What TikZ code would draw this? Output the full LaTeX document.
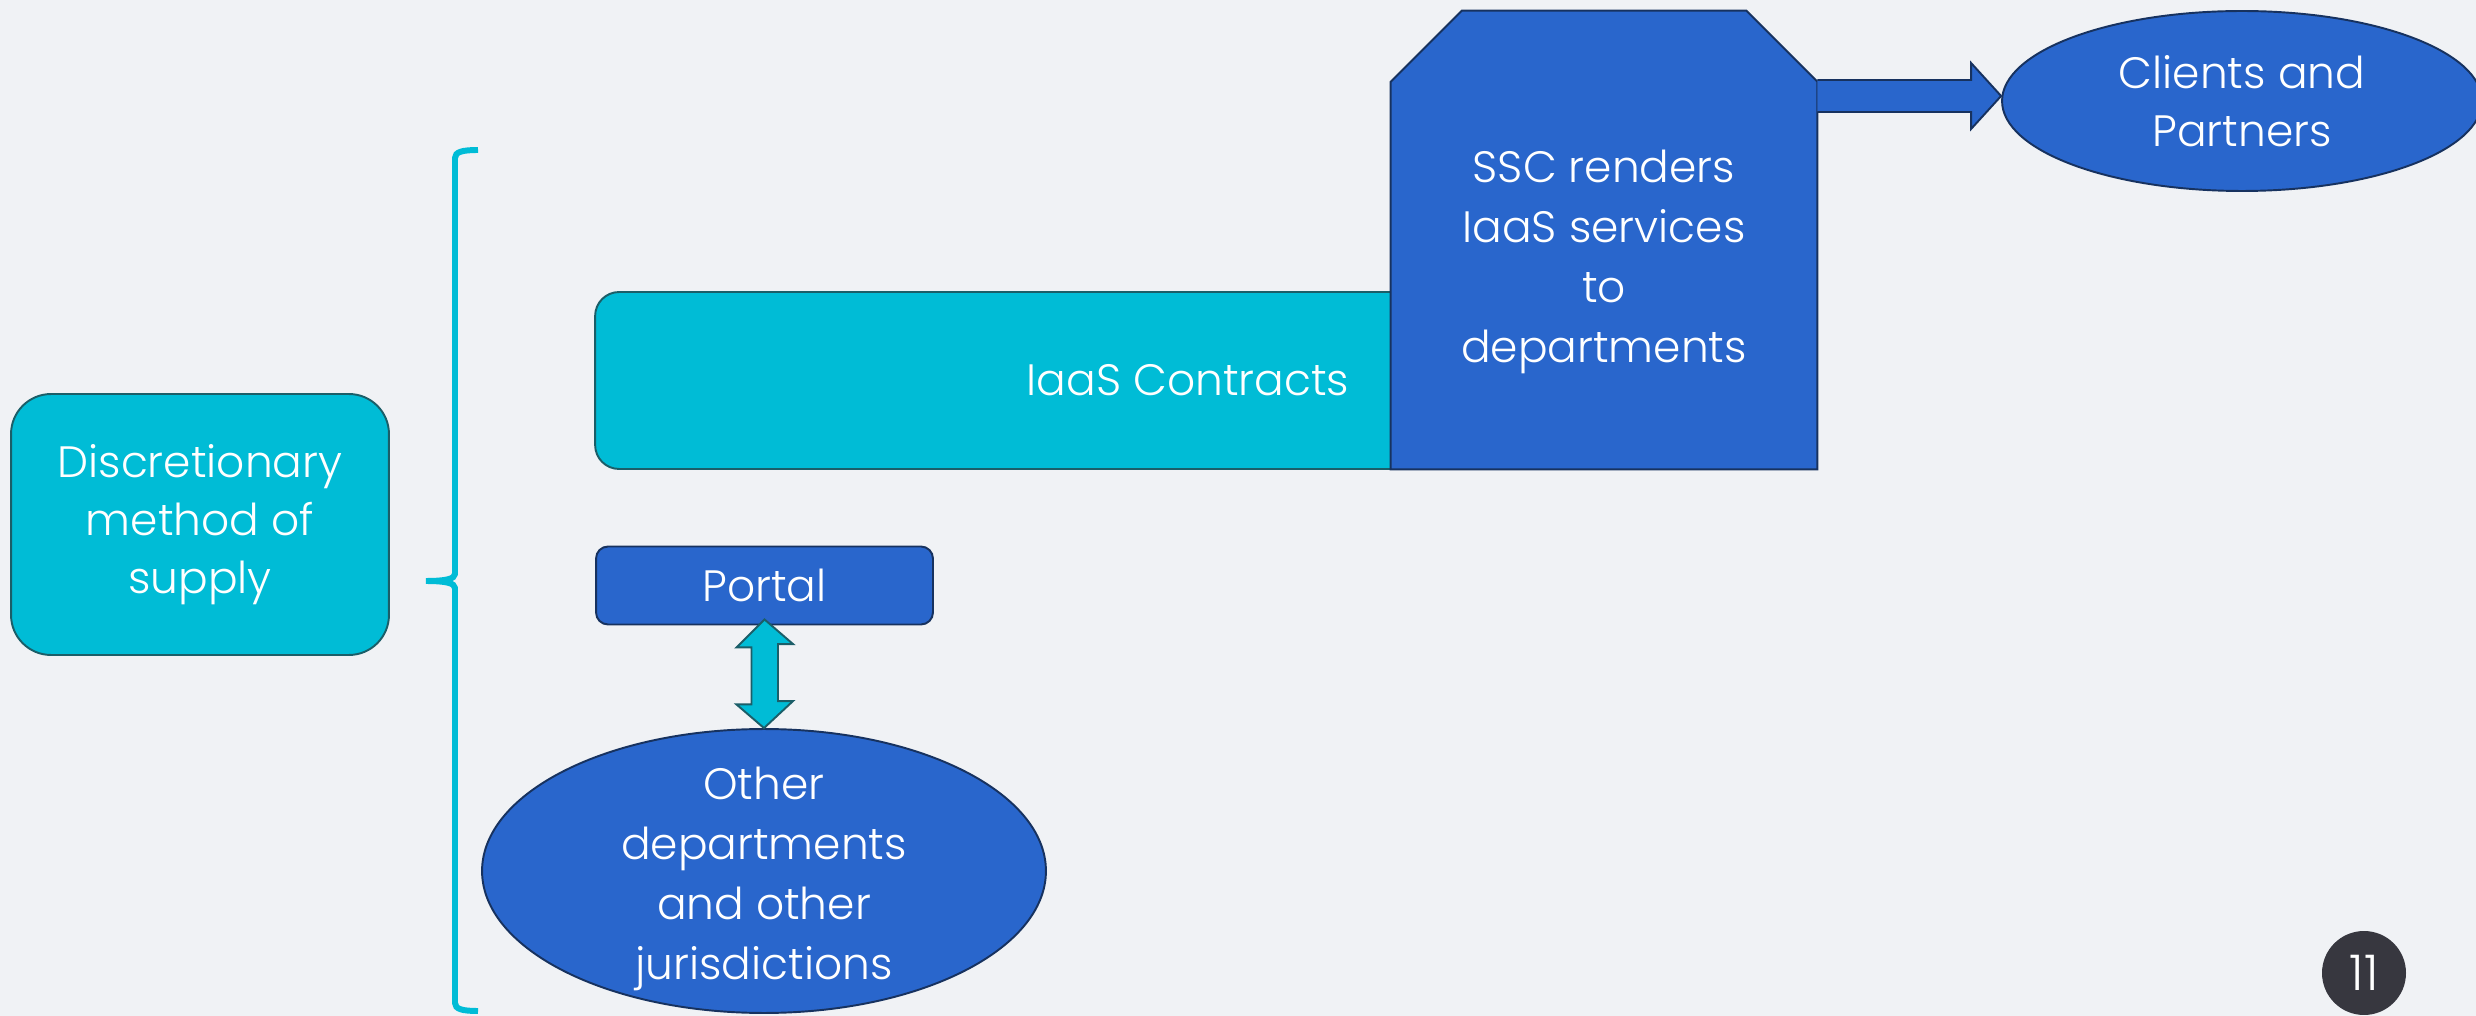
\documentclass[tikz,border=0pt]{standalone}
\usepackage{fontspec}
\setmainfont{Poppins}[UprightFont=* Light]
\usetikzlibrary{calc,shapes.geometric}
\definecolor{bgc}{HTML}{F0F2F5}
\definecolor{cyanc}{HTML}{00BCD6}
\definecolor{cyanline}{HTML}{1B5E68}
\definecolor{bluec}{HTML}{2966CC}
\definecolor{blueline}{HTML}{17325F}
\definecolor{pagec}{HTML}{37373F}
\begin{document}
\begin{tikzpicture}[x=0.02cm,y=-0.02cm,
  txt/.style={text=white,font=\fontsize{25}{33}\selectfont,align=center},
  txtb/.style={text=white,font=\fontsize{25}{34}\selectfont,align=center},
  cyanbox/.style={fill=cyanc,draw=cyanline,line width=1.1pt},
  bluebox/.style={fill=bluec,draw=blueline,line width=1.1pt},
  bracestyle/.style={draw=cyanc,line width=3.4pt},
  arrowcyan/.style={fill=cyanc,draw=cyanline,line width=1.1pt,line join=miter},
  arrowblue/.style={fill=bluec,draw=blueline,line width=1.1pt,line join=miter}]
\path[use as bounding box,fill=bgc] (0,0) rectangle (2476,1016);

% left box
\node[cyanbox,txt,rectangle,rounded corners=0.8cm,minimum width=7.56cm,minimum height=5.22cm,inner sep=0pt]
  (disc) at (200,524.5) {Discretionary\\method of\\supply};

% brace
\path[bracestyle] (478,150) .. controls (462,150) and (455,152) .. (455,158) -- (455,574)
  .. controls (455,579) and (445,581) .. (426,581)
  .. controls (445,581) and (455,583) .. (455,588) -- (455,1003)
  .. controls (455,1009) and (462,1011) .. (478,1011);

% contracts
\node[cyanbox,txt,rectangle,rounded corners=0.48cm,minimum width=23.16cm,minimum height=3.54cm,inner sep=0pt]
  (contracts) at (1174,380.5) {\hspace*{0.56cm}IaaS Contracts};

% SSC chamfered shape
\node[rectangle,minimum width=8.52cm,minimum height=9.16cm,inner sep=0pt] (ssc) at (1604,240) {};
\path[bluebox] (ssc.south west) -- ($(ssc.north west)+(0,71)$) -- ($(ssc.north west)+(71,0)$)
  -- ($(ssc.north east)+(-71,0)$) -- ($(ssc.north east)+(0,71)$) -- (ssc.south east) -- cycle;
\node[txtb] (ssctext) at (1604,262) {SSC renders\\IaaS services\\to\\departments};

% clients
\node[bluebox,txt,ellipse,minimum width=9.6cm,minimum height=3.6cm,inner sep=0pt]
  (clients) at (2242,101) {Clients and\\Partners};

% right block arrow
\coordinate (tip) at ($(clients.west)+(0,-5)$);
\coordinate (ct) at ($(tip)+(-30,-16)$);
\coordinate (cb) at ($(tip)+(-30,16)$);
\path[arrowblue] (ssc.east |- ct) -- (ct) -- ++(0,-17) -- (tip) -- ($(cb)+(0,17)$) -- (cb) -- (ssc.east |- cb);

% portal
\node[bluebox,txt,rectangle,rounded corners=0.24cm,minimum width=6.74cm,minimum height=1.56cm,inner sep=0pt]
  (portal) at (764.5,585.5) {Portal};

% other departments
\node[bluebox,ellipse,minimum width=11.28cm,minimum height=5.68cm,inner sep=0pt]
  (other) at (764,871) {};
\node[txtb] (othertext) at (764,879) {Other\\departments\\and other\\jurisdictions};

% double arrow
\path[arrowcyan] ($(portal.south)+(0,-6)$) -- ++(-28,28) -- ++(15,0) -- ++(0,57) -- ++(-15,0)
  -- (other.north) -- ++(29,-27) -- ++(-15,0) -- ++(0,-57) -- ++(15,0) -- cycle;

% page number
\node[circle,fill=pagec,minimum size=1.68cm,inner sep=0pt,text=white,font=\fontsize{28}{30}\selectfont]
  (page) at (2364,973) {11};
\end{tikzpicture}
\end{document}
